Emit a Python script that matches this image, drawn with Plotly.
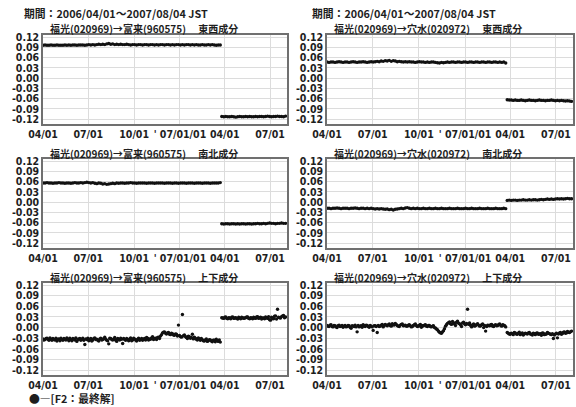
import pandas as pd
import plotly.graph_objects as go

period_text = "期間：2006/04/01～2007/08/04 JST"
panel_titles = [
    "福光(020969)→富来(960575)　 東西成分",
    "福光(020969)→穴水(020972)　 東西成分",
    "福光(020969)→富来(960575)　 南北成分",
    "福光(020969)→穴水(020972)　 南北成分",
    "福光(020969)→富来(960575)　 上下成分",
    "福光(020969)→穴水(020972)　 上下成分",
]
legend_text = "●―[F2：最終解]"

x_tick_dates = ["2006-04-01", "2006-07-01", "2006-10-01", "2007-01-01", "2007-04-01", "2007-07-01"]
x_tick_labels = ["04/01", "07/01", "10/01", "' 07/01/01", "04/01", "07/01"]
y_tick_values = [-0.12, -0.09, -0.06, -0.03, 0.0, 0.03, 0.06, 0.09, 0.12]
y_tick_labels = ["-0.12", "-0.09", "-0.06", "-0.03", "0.00", "0.03", "0.06", "0.09", "0.12"]

# sampling dates (every 4 days) before / after the 2007-03-25 earthquake
dates_before = pd.date_range("2006-04-01", periods=90, freq="4D")
dates_after = pd.date_range("2007-03-26", periods=33, freq="4D")
# extra in-between sampling dates used for the noisier vertical components
dates_before_mid = pd.date_range("2006-04-03", periods=89, freq="4D")
dates_after_mid = pd.date_range("2007-03-28", periods=32, freq="4D")

# --- 富来 東西 ---
tomiku_ew_before = [
    .096, .097, .096, .096, .097, .096, .096, .097, .096, .096,
    .096, .097, .096, .097, .096, .097, .097, .096, .097, .097,
    .097, .096, .097, .098, .097, .098, .097, .098, .099, .098,
    .099, .098, .100, .101, .099, .100, .098, .099, .098, .099,
    .098, .098, .099, .098, .097, .098, .098, .097, .098, .098,
    .097, .098, .098, .097, .098, .098, .097, .098, .097, .098,
    .098, .097, .098, .098, .097, .098, .097, .098, .098, .097,
    .098, .097, .098, .098, .097, .098, .097, .098, .097, .097,
    .098, .097, .097, .098, .097, .098, .097, .096, .097, .097]
tomiku_ew_after = [
    -.112, -.113, -.112, -.113, -.113, -.112, -.113, -.114, -.113, -.112, -.113,
    -.113, -.112, -.113, -.112, -.113, -.113, -.112, -.113, -.112, -.112, -.113,
    -.112, -.111, -.112, -.113, -.112, -.112, -.111, -.112, -.112, -.113, -.111]

# --- 穴水 東西 ---
anamizu_ew_before = [
    .047, .046, .047, .047, .046, .047, .048, .047, .046, .047,
    .047, .046, .047, .048, .047, .046, .047, .047, .048, .047,
    .046, .047, .048, .047, .048, .049, .048, .050, .049, .051,
    .050, .052, .049, .051, .050, .048, .049, .048, .047, .048,
    .047, .048, .047, .047, .046, .047, .048, .047, .047, .046,
    .047, .046, .047, .047, .046, .045, .044, .046, .045, .046,
    .047, .046, .047, .047, .046, .047, .047, .046, .047, .047,
    .046, .047, .047, .046, .047, .047, .046, .047, .047, .046,
    .047, .047, .046, .047, .047, .046, .047, .046, .047, .044]
anamizu_ew_after = [
    -.063, -.064, -.064, -.065, -.064, -.065, -.065, -.064, -.065, -.066, -.065,
    -.064, -.065, -.065, -.066, -.065, -.064, -.065, -.065, -.066, -.065, -.065,
    -.064, -.065, -.066, -.065, -.066, -.065, -.066, -.067, -.066, -.067, -.068]

# --- 富来 南北 ---
tomiku_ns_before = [
    .056, .056, .057, .056, .056, .055, .056, .056, .057, .056,
    .056, .055, .056, .056, .055, .056, .057, .056, .056, .057,
    .056, .057, .058, .057, .056, .057, .055, .054, .056, .055,
    .053, .054, .052, .053, .054, .055, .054, .056, .055, .056,
    .056, .055, .056, .056, .057, .056, .056, .055, .056, .056,
    .056, .056, .055, .056, .056, .056, .055, .056, .056, .056,
    .056, .055, .056, .056, .056, .055, .056, .056, .055, .056,
    .056, .056, .055, .056, .056, .056, .055, .056, .056, .056,
    .055, .056, .056, .056, .055, .056, .056, .056, .056, .057]
tomiku_ns_after = [
    -.063, -.064, -.063, -.063, -.064, -.063, -.063, -.064, -.063, -.064, -.063,
    -.063, -.064, -.063, -.063, -.064, -.063, -.063, -.062, -.063, -.063, -.062,
    -.063, -.062, -.061, -.062, -.062, -.063, -.062, -.062, -.061, -.062, -.062]

# --- 穴水 南北 ---
anamizu_ns_before = [
    -.018, -.018, -.019, -.018, -.018, -.017, -.018, -.019, -.018, -.018,
    -.018, -.019, -.018, -.018, -.017, -.018, -.019, -.018, -.018, -.019,
    -.018, -.019, -.018, -.019, -.020, -.019, -.020, -.019, -.020, -.021,
    -.020, -.022, -.021, -.023, -.021, -.020, -.019, -.018, -.019, -.017,
    -.016, -.018, -.019, -.018, -.019, -.018, -.019, -.019, -.018, -.019,
    -.019, -.018, -.019, -.019, -.018, -.019, -.019, -.018, -.019, -.019,
    -.019, -.018, -.019, -.019, -.019, -.018, -.019, -.019, -.019, -.018,
    -.019, -.019, -.018, -.019, -.019, -.019, -.018, -.019, -.019, -.019,
    -.018, -.019, -.019, -.019, -.018, -.019, -.019, -.019, -.018, -.019]
anamizu_ns_after = [
    .005, .006, .005, .006, .006, .005, .006, .006, .007, .006, .006,
    .007, .006, .007, .007, .006, .007, .008, .007, .008, .009, .008,
    .009, .008, .009, .010, .009, .010, .009, .010, .011, .010, .010]

# --- 富来 上下 ---
tomiku_ud_before = [
    -.032, -.034, -.030, -.036, -.033, -.031, -.035, -.038, -.032, -.030,
    -.036, -.033, -.029, -.037, -.034, -.031, -.035, -.039, -.032, -.036,
    -.030, -.048, -.034, -.037, -.031, -.035, -.029, -.033, -.038, -.030,
    -.034, -.027, -.036, -.046, -.031, -.035, -.028, -.039, -.033, -.030,
    -.045, -.034, -.031, -.037, -.029, -.035, -.032, -.038, -.030, -.034,
    -.036, -.031, -.028, -.035, -.033, -.026, -.031, -.034, -.027, -.024,
    -.015, -.012, -.018, -.014, -.020, -.017, -.022, -.019, .007, -.025,
    .037, -.021, -.028, -.024, -.030, -.019, -.027, -.033, -.029, -.036,
    -.034, -.038, -.032, -.037, -.035, -.040, -.036, -.033, -.039, -.041]
tomiku_ud_before_mid = [
    -.035, -.031, -.033, -.029, -.036, -.034, -.030, -.033, -.037, -.034,
    -.031, -.035, -.033, -.030, -.037, -.033, -.029, -.034, -.031, -.033,
    -.036, -.032, -.030, -.035, -.038, -.031, -.034, -.036, -.032, -.035,
    -.031, -.033, -.037, -.030, -.034, -.032, -.036, -.031, -.035, -.033,
    -.031, -.036, -.034, -.032, -.037, -.030, -.035, -.033, -.036, -.031,
    -.033, -.035, -.030, -.032, -.029, -.034, -.030, -.028, -.031, -.020,
    -.013, -.016, -.015, -.019, -.016, -.021, -.018, -.024, -.022, -.027,
    -.023, -.025, -.031, -.026, -.028, -.032, -.030, -.035, -.033, -.031,
    -.037, -.035, -.039, -.034, -.038, -.036, -.040, -.037, -.035]
tomiku_ud_after = [
    .028, .026, .030, .025, .027, .029, .026, .028, .024, .027, .029,
    .026, .028, .030, .025, .027, .029, .026, .031, .028, .024, .027,
    .030, .026, .022, .029, .025, .033, .052, .028, .031, .034, .030]
tomiku_ud_after_mid = [
    .027, .029, .026, .028, .025, .030, .027, .026, .029, .025, .028,
    .027, .030, .026, .028, .025, .027, .030, .026, .029, .027, .025,
    .028, .031, .021, .026, .032, .024, .029, .027, .033, .028]

# --- 穴水 上下 ---
anamizu_ud_before = [
    .006, .003, .008, .002, .005, .000, .007, .004, .001, .006,
    .003, .005, -.002, .004, .007, -.012, .002, .005, .008, .003,
    .006, .001, .004, -.008, .005, -.014, .003, .007, .002, .009,
    .005, .010, .004, .008, .012, .006, .003, .009, .005, .007,
    .004, .008, .002, .006, .010, .003, .007, .001, .005, .008,
    .003, .006, .002, .005, -.001, -.006, -.013, -.016, -.009, .004,
    .012, .016, .009, .014, .006, .018, .011, .003, .015, .008,
    .052, .013, .002, .010, .006, .011, .004, .008, .000, -.010,
    .007, .005, .009, .003, .008, .006, .010, .004, .007, .002]
anamizu_ud_before_mid = [
    .004, .007, .003, .006, .002, .005, .003, .006, .004, .002,
    .006, .001, .005, .003, .002, .006, .004, .001, .005, .007,
    .003, .006, .002, .005, .003, .006, .004, .009, .006, .007,
    .008, .006, .011, .007, .009, .004, .007, .010, .006, .004,
    .007, .005, .003, .008, .006, .004, .009, .005, .007, .004,
    .006, .003, .004, .000, -.004, -.010, -.015, -.012, -.003, .008,
    .014, .011, .017, .010, .015, .012, .008, .013, .010, .012,
    .009, .006, .008, .004, .009, .007, .005, .010, .006, .003,
    .006, .008, .004, .007, .005, .009, .006, .008, .005]
anamizu_ud_after = [
    -.014, -.018, -.016, -.020, -.015, -.019, -.013, -.017, -.021, -.016, -.018,
    -.014, -.019, -.016, -.020, -.015, -.018, -.022, -.016, -.019, -.014, -.017,
    -.020, -.031, -.018, -.029, -.015, -.019, -.013, -.016, -.011, -.014, -.010]
anamizu_ud_after_mid = [
    -.016, -.019, -.017, -.014, -.018, -.016, -.020, -.015, -.018, -.017, -.015,
    -.018, -.021, -.017, -.016, -.019, -.017, -.015, -.020, -.018, -.016, -.019,
    -.017, -.021, -.016, -.018, -.014, -.017, -.012, -.015, -.013, -.012]

x_main = list(dates_before) + list(dates_after)
x_mid = list(dates_before_mid) + list(dates_after_mid)

panels = [
    [(x_main, tomiku_ew_before + tomiku_ew_after)],
    [(x_main, anamizu_ew_before + anamizu_ew_after)],
    [(x_main, tomiku_ns_before + tomiku_ns_after)],
    [(x_main, anamizu_ns_before + anamizu_ns_after)],
    [(x_main, tomiku_ud_before + tomiku_ud_after),
     (x_mid, tomiku_ud_before_mid + tomiku_ud_after_mid)],
    [(x_main, anamizu_ud_before + anamizu_ud_after),
     (x_mid, anamizu_ud_before_mid + anamizu_ud_after_mid)],
]

W, H = 576, 407
col_px = [(43, 287), (327, 573)]
row_px = [(35, 124), (159, 248), (283, 375)]

TICK_FONT = dict(family="Liberation Sans Narrow, Arial Narrow, DejaVu Sans Condensed, Liberation Sans",
                 size=10.5, color="#1e1e1e", weight="bold")
TEXT_FONT = dict(family="Noto Sans CJK JP", size=10, color="#1e1e1e", weight="bold")
HEAD_FONT = dict(family="Noto Sans CJK JP", size=10.8, color="#1e1e1e", weight="bold")

fig = go.Figure()

for k, series in enumerate(panels):
    r, c = divmod(k, 2)
    n = k + 1
    xa = "x" if n == 1 else f"x{n}"
    ya = "y" if n == 1 else f"y{n}"
    for xs, ys in series:
        fig.add_trace(go.Scatter(
            x=xs, y=ys, xaxis=xa, yaxis=ya,
            mode="markers", marker=dict(color="#111", size=3.4, line=dict(width=0)),
            showlegend=False, hoverinfo="skip"))
    x0, x1 = col_px[c]
    y0, y1 = row_px[r]
    fig.layout[f"xaxis{'' if n == 1 else n}"] = dict(
        domain=[x0 / W, x1 / W], anchor=ya, type="date",
        range=["2006-04-01", "2007-08-04"],
        tickvals=x_tick_dates, ticktext=x_tick_labels, tickfont=TICK_FONT,
        tickangle=0, automargin=False,
        showgrid=True, gridcolor="#dcdcdc", gridwidth=1,
        showline=True, linecolor="#707070", linewidth=1.5, mirror=True,
        ticks="", zeroline=False, fixedrange=True)
    fig.layout[f"yaxis{'' if n == 1 else n}"] = dict(
        domain=[1 - y1 / H, 1 - y0 / H], anchor=xa,
        range=[-0.134, 0.126], automargin=False,
        tickvals=y_tick_values, ticktext=y_tick_labels, tickfont=TICK_FONT,
        showgrid=True, gridcolor="#dcdcdc", gridwidth=1,
        showline=True, linecolor="#707070", linewidth=1.5, mirror=True,
        ticks="", zeroline=False, fixedrange=True)
    # panel title
    fig.add_annotation(text=panel_titles[k], xref="paper", yref="paper",
                       x=(x0 + 5) / W, y=1 - (y0 - 6) / H, xanchor="left", yanchor="middle",
                       showarrow=False, font=TEXT_FONT)

for xh in (22, 310):
    fig.add_annotation(text=period_text, xref="paper", yref="paper",
                       x=xh / W, y=1 - 13 / H, xanchor="left", yanchor="middle",
                       showarrow=False, font=HEAD_FONT)

fig.add_annotation(text=legend_text, xref="paper", yref="paper",
                   x=27 / W, y=1 - 398 / H, xanchor="left", yanchor="middle",
                   showarrow=False, font=HEAD_FONT)

fig.update_layout(width=W, height=H, margin=dict(l=0, r=0, t=0, b=0),
                  paper_bgcolor="white", plot_bgcolor="white")

fig.write_html("out.html", config={"displayModeBar": False},
               post_script="document.body.style.margin='0';")
